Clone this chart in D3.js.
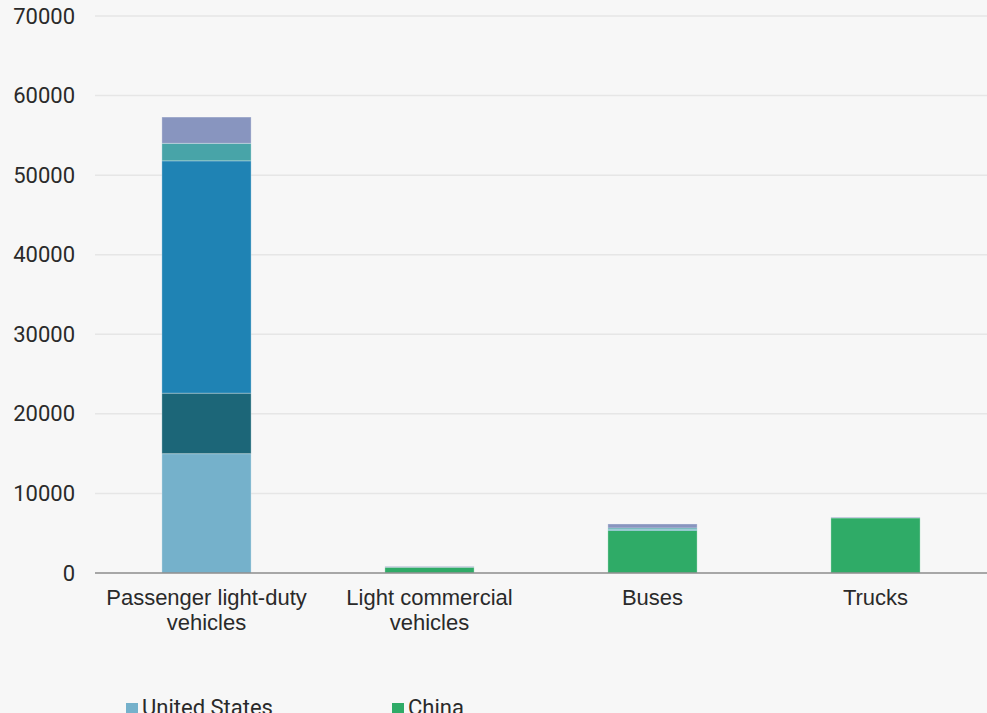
<!DOCTYPE html>
<html>
<head>
<meta charset="utf-8">
<script src="https://cdn.jsdelivr.net/npm/d3@7/dist/d3.min.js"></script>
<style>
  html, body { margin: 0; padding: 0; background: #f7f7f7; overflow: hidden; }
  svg { display: block; font-family: Roboto, "Noto Sans", sans-serif; }
</style>
</head>
<body>
<svg id="chart" width="987" height="713"></svg>
<script>
// Vehicle stock by segment and region (thousands)
const categories = ["Passenger light-duty vehicles", "Light commercial vehicles", "Buses", "Trucks"];
const seriesNames = ["United States", "China", "European Union", "India", "Japan", "Rest of world"];
const unitedStates = [15000, 0, 0, 0];
const china = [0, 720, 5350, 6920];
const europeanUnion = [7600, 0, 0, 0];
const india = [29200, 0, 130, 0];
const japan = [2200, 0, 180, 0];
const restOfWorld = [3300, 100, 500, 80];
const yTicks = [0, 10000, 20000, 30000, 40000, 50000, 60000, 70000];
const colors = ["#75b1cb", "#2fab67", "#1c6678", "#1f83b4", "#48a4a8", "#8895bf"];

const seriesValues = [unitedStates, china, europeanUnion, india, japan, restOfWorld];
const rows = categories.map((c, i) => {
  const r = { category: c };
  seriesNames.forEach((s, k) => { r[s] = seriesValues[k][i]; });
  return r;
});

const svg = d3.select("#chart");
const margin = { left: 95, right: 0 };
const width = 987;
const fontSize = 22;
const textColor = "#2a2a2a";

const x = d3.scaleBand()
  .domain(categories)
  .range([margin.left, width - margin.right])
  .paddingInner(0.6)
  .paddingOuter(0.3);

const y = d3.scaleLinear()
  .domain([0, 70000])
  .range([573, 16]);

// gridlines
svg.append("g")
  .selectAll("line")
  .data(yTicks.filter(d => d > 0))
  .join("line")
  .attr("x1", margin.left)
  .attr("x2", width)
  .attr("y1", d => y(d))
  .attr("y2", d => y(d))
  .attr("stroke", "#e6e6e6")
  .attr("stroke-width", 1.5);

// y axis labels
const yAxis = svg.append("g")
  .attr("transform", "translate(75,0)")
  .call(d3.axisLeft(y).tickValues(yTicks).tickSize(0).tickPadding(0).tickFormat(d3.format("d")));
yAxis.select(".domain").remove();
yAxis.selectAll("text")
  .attr("font-size", fontSize)
  .attr("font-family", "Roboto, sans-serif")
  .attr("fill", textColor);

// stacked bars
const stack = d3.stack().keys(seriesNames)(rows);
svg.append("g")
  .selectAll("g")
  .data(stack)
  .join("g")
  .attr("fill", (d, i) => colors[i])
  .selectAll("rect")
  .data(d => d.filter(p => p[1] - p[0] > 0))
  .join("rect")
  .attr("x", d => x(d.data.category))
  .attr("width", x.bandwidth())
  .attr("y", d => y(d[1]))
  .attr("height", d => y(d[0]) - y(d[1]))
  .attr("stroke", "rgba(255,255,255,0.3)")
  .attr("stroke-width", 1);

// baseline
svg.append("line")
  .attr("x1", margin.left)
  .attr("x2", width)
  .attr("y1", y(0))
  .attr("y2", y(0))
  .attr("stroke", "#8c8c8c")
  .attr("stroke-width", 1.5);

// x axis labels, wrapped to two lines
const xAxis = svg.append("g")
  .attr("transform", `translate(0,${y(0)})`)
  .call(d3.axisBottom(x).tickSize(0).tickPadding(0));
xAxis.select(".domain").remove();
xAxis.selectAll("text").remove();
const wrap = {
  "Passenger light-duty vehicles": ["Passenger light-duty", "vehicles"],
  "Light commercial vehicles": ["Light commercial", "vehicles"],
  "Buses": ["Buses"],
  "Trucks": ["Trucks"]
};
xAxis.selectAll(".tick")
  .append("text")
  .attr("fill", textColor)
  .attr("font-size", fontSize)
  .attr("text-anchor", "middle")
  .selectAll("tspan")
  .data(d => wrap[d])
  .join("tspan")
  .attr("x", 0)
  .attr("y", (d, i) => 32 + i * 25)
  .text(d => d);

// legend, two columns
const legend = svg.append("g")
  .selectAll("g")
  .data(seriesNames)
  .join("g")
  .attr("transform", (d, i) => `translate(${126 + (i % 2) * 266},${703 + Math.floor(i / 2) * 30})`);
legend.append("rect")
  .attr("width", 12)
  .attr("height", 12)
  .attr("fill", (d, i) => colors[i]);
legend.append("text")
  .attr("x", 16)
  .attr("y", 12)
  .attr("font-size", fontSize)
  .attr("fill", textColor)
  .text(d => d);
</script>
</body>
</html>
